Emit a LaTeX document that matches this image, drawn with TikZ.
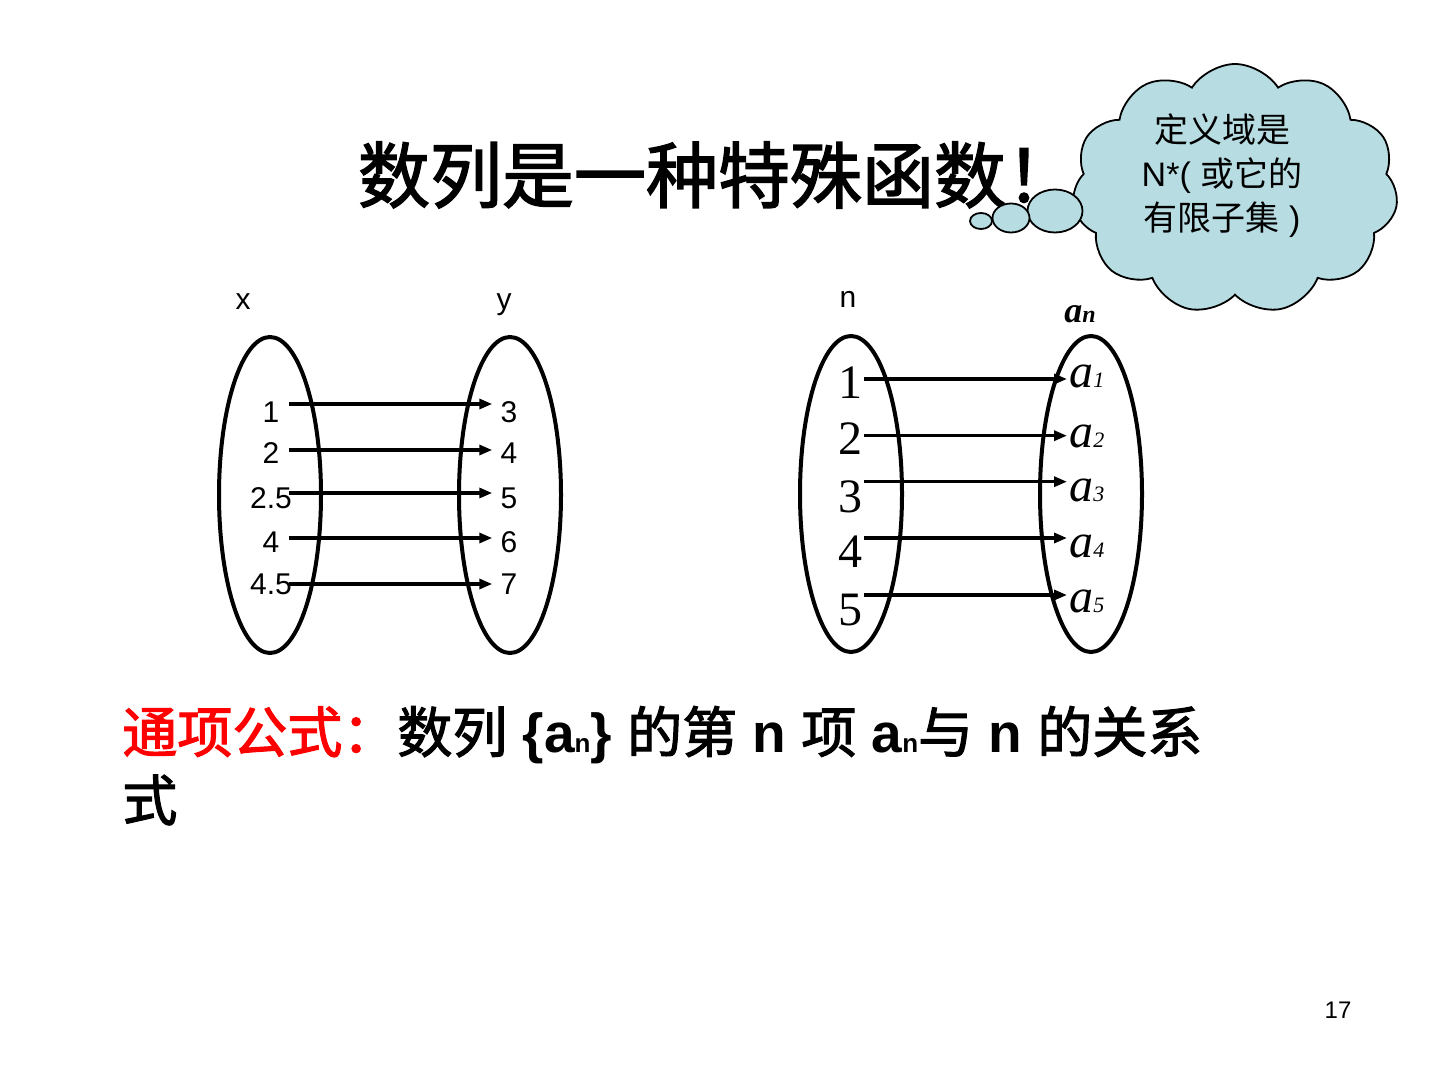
\documentclass[tikz,border=0pt]{standalone}
\usepackage{fontspec}
\setmainfont{Liberation Sans}
\newfontfamily\cjk{Noto Sans CJK SC}
\newfontfamily\cjkbf{Noto Sans CJK SC}[FakeBold=2]
\newfontfamily\tnr{Liberation Serif}
\usetikzlibrary{arrows.meta,positioning,shapes.geometric,shapes.symbols}
\definecolor{cloudblue}{RGB}{183,221,227}
\newcommand{\lowsub}[1]{{\fontsize{13}{13}\selectfont #1}}
\newcommand{\zh}[1]{{\cjkbf\mdseries #1}}

\begin{document}
\begin{tikzpicture}[x=0.5pt, y=-0.5pt,
    set/.style={draw, ellipse, line width=2pt, minimum width=51pt, minimum height=158pt, inner sep=0pt},
    num/.style={inner sep=1pt, font=\fontsize{15}{15}\selectfont},
    bignum/.style={inner sep=1pt, font=\tnr\fontsize{24}{24}\selectfont},
    term/.style={anchor=west, inner sep=1pt, font=\tnr\itshape\fontsize{24}{24}\selectfont},
    arrow/.style={-{Triangle[length=6.5pt,width=5pt]}, line width=1.6pt},
    bubble/.style={draw, ellipse, fill=cloudblue, line width=0.9pt, inner sep=0pt}
  ]
  \useasboundingbox (0,0) rectangle (1440,1080);

  % title and thought cloud
  \node[font=\cjkbf\fontsize{36}{36}\selectfont] (title) at (718,175) {数列是一种特殊函数！};
  \node[cloud, cloud puffs=11, cloud puff arc=115, aspect=1.3, draw, fill=cloudblue, line width=0.9pt,
        minimum width=163pt, minimum height=125pt] (cloud) at (1235,189) {};
  \node[bubble, minimum width=27.5pt, minimum height=21.5pt] (bubbleA) at (1055,211) {};
  \node[bubble, minimum width=18.5pt, minimum height=14.5pt] (bubbleB) at (1011,218) {};
  \node[bubble, minimum width=11pt, minimum height=8pt] (bubbleC) at (981,221) {};
  \node[align=center, font=\fontsize{17}{22}\selectfont] (thought) at (1222,176)
    {{\cjk 定义域是}\\N*( {\cjk 或它的}\\{\cjk 有限子集} )};

  % function x -> y
  \node[set] (xset) at (270,495) {};
  \node[set] (yset) at (510,495) {};
  \node[num, anchor=base] (xlab) at (243,310) {x};
  \node[num, anchor=base] (ylab) at (504,310) {y};
  \foreach \i/\a/\b/\y/\d in {1/1/3/412/4, 2/2/4/453.5/1.75, 3/2.5/5/498/2.5, 4/4/6/541.7/1.85, 5/4.5/7/584/0} {
    \node[num] (x\i) at (271,\y) {\a};
    \node[num] (y\i) at (509,\y) {\b};
    \draw[arrow] ([xshift=9pt, yshift=\d pt]x\i.center) -- ([xshift=-3pt, yshift=\d pt]x\i.center -| y\i.west);
  }

  % sequence n -> a_n
  \node[set] (nset) at (851,494) {};
  \node[set] (aset) at (1091,494) {};
  \node[num, anchor=base] (nlab) at (848,308) {n};
  \node[anchor=base, inner sep=1pt, font=\tnr\bfseries\itshape\fontsize{18}{18}\selectfont] (alab) at (1080,323)
    {a{\fontsize{12}{12}\selectfont n}};
  \foreach \i/\y/\ay/\d in {1/383/376.7/2, 2/439/436.7/1.65, 3/497/490/7.65, 4/552/546.7/7, 5/610/601.7/7.5} {
    \node[bignum] (n\i) at (850,\y) {\i};
    \node[term] (a\i) at (1067,\ay) {a{\fontsize{11}{11}\selectfont\i}};
    \draw[arrow] ([yshift=\d pt]n\i.east) -- ([yshift=\d pt]n\i.east -| a\i.west);
  }

  % general term formula
  \node[anchor=west, inner sep=0pt, font=\bfseries\fontsize{27.5}{27.5}\selectfont] (formula) at (122,735)
    {\textcolor{red}{\zh{通项公式：}}\zh{数列} \{a\lowsub{n}\} \zh{的第} n \zh{项} a\lowsub{n}\zh{与} n \zh{的关系}};
  \node[anchor=west, inner sep=0pt, font=\fontsize{27.5}{27.5}\selectfont] (formulaend) at (122,800) {\zh{式}};

  \node[font=\fontsize{12}{12}\selectfont] (page) at (1338,1010) {17};
\end{tikzpicture}
\end{document}
